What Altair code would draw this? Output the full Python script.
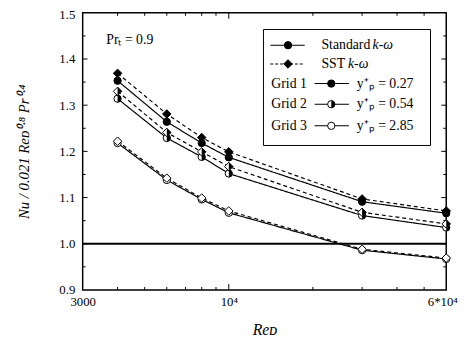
import altair as alt
import pandas as pd

# ---- data ----
re_d = [4000, 6000, 8000, 10000, 30000, 60000]
std_g1 = [1.353, 1.264, 1.218, 1.187, 1.091, 1.066]
sst_g1 = [1.369, 1.281, 1.230, 1.199, 1.097, 1.071]
std_g2 = [1.314, 1.229, 1.188, 1.152, 1.061, 1.035]
sst_g2 = [1.330, 1.241, 1.199, 1.167, 1.068, 1.043]
std_g3 = [1.218, 1.138, 1.096, 1.067, 0.986, 0.967]
sst_g3 = [1.222, 1.142, 1.099, 1.071, 0.988, 0.969]

x_tick_labels = [3000, 10000, 60000]
y_tick_labels = [0.9, 1.0, 1.1, 1.2, 1.3, 1.4, 1.5]
x_minor = [4000, 5000, 6000, 7000, 8000, 9000, 20000, 30000, 40000, 50000]
x_major = [10000]
y_major = [1.0, 1.1, 1.2, 1.3, 1.4]
y_minor = [0.95, 1.05, 1.15, 1.25, 1.35, 1.45]

W, H = 370, 282
FONT = "Liberation Serif"

series = [
    ("Standard", "Grid 1", std_g1), ("SST", "Grid 1", sst_g1),
    ("Standard", "Grid 2", std_g2), ("SST", "Grid 2", sst_g2),
    ("Standard", "Grid 3", std_g3), ("SST", "Grid 3", sst_g3),
]
rows = []
for model, grid, vals in series:
    for r, v in zip(re_d, vals):
        rows.append(dict(Re=r, Nu=v, model=model, grid=grid, series=model + grid))
df = pd.DataFrame(rows)

xs = alt.Scale(type="log", domain=[3000, 60000], nice=False)
ys = alt.Scale(domain=[0.9, 1.5], nice=False, zero=False)

XAX = alt.Axis(
    values=x_tick_labels,
    labelExpr="datum.value == 3000 ? '3000' : (datum.value == 10000 ? '10⁴' : '6*10⁴')",
    title="Reᴅ", grid=False, ticks=False, domain=False,
    labelFont=FONT, labelFontSize=13, labelColor="black", labelPadding=6,
    labelFlush=False, labelOverlap=False,
    labelOffset={"condition": {"test": "datum.value == 60000", "value": -4}, "value": 0},
    titleFont=FONT, titleFontSize=16, titleFontStyle="italic", titleFontWeight="normal",
    titleColor="black", titlePadding=13)
YAX = alt.Axis(
    values=y_tick_labels, format=".1f",
    title="Nu / 0.021 Reᴅ⁰·⁸ Pr⁰·⁴", grid=False, ticks=False, domain=False,
    labelFont=FONT, labelFontSize=13, labelColor="black", labelPadding=8,
    labelFlush=False,
    labelOffset={"condition": {"test": "datum.value == 1.5", "value": 2}, "value": 0},
    titleFont=FONT, titleFontSize=15, titleFontStyle="italic", titleFontWeight="normal",
    titleColor="black", titlePadding=28)

def XF(field):
    return alt.X(field, scale=xs, axis=XAX)

def YF(field):
    return alt.Y(field, scale=ys, axis=YAX)

base = alt.Chart(df)

hline = alt.Chart(pd.DataFrame({"v": [1.0]})).mark_rule(color="black", strokeWidth=2).encode(
    y=YF("v:Q"))

lines = base.mark_line(color="black", strokeWidth=1.2).encode(
    XF("Re:Q"), YF("Nu:Q"), detail="series:N",
    strokeDash=alt.StrokeDash("model:N", scale=alt.Scale(domain=["Standard", "SST"], range=[[1, 0], [4, 3]]), legend=None))

RIGHT_HALF_CIRCLE = "M0,-1A1,1 0 0,1 0,1Z"
RIGHT_HALF_DIAMOND = "M0,-1L1,0L0,1Z"

pts = []
for model, shape, half, size in [("Standard", "circle", RIGHT_HALF_CIRCLE, 55), ("SST", "diamond", RIGHT_HALF_DIAMOND, 75)]:
    for grid, fill in [("Grid 1", "black"), ("Grid 2", "white"), ("Grid 3", "white")]:
        pts.append(base.transform_filter(
            (alt.datum.model == model) & (alt.datum.grid == grid)
        ).mark_point(shape=shape, size=size, filled=True, fill=fill, stroke="black", strokeWidth=1, opacity=1).encode(
            x=XF("Re:Q"), y=YF("Nu:Q")))
    pts.append(base.transform_filter(
        (alt.datum.model == model) & (alt.datum.grid == "Grid 2")
    ).mark_point(shape=half, size=size, filled=True, fill="black", strokeWidth=0, opacity=1).encode(
        x=XF("Re:Q"), y=YF("Nu:Q")))

# ---- inward tick marks ----
def xticks(vals, length):
    d = alt.Chart(pd.DataFrame({"v": vals}))
    bot = d.mark_rule(color="black", strokeWidth=1).encode(
        x=XF("v:Q"), y=alt.value(H), y2=alt.value(H - length))
    top = d.mark_rule(color="black", strokeWidth=1).encode(
        x=XF("v:Q"), y=alt.value(0), y2=alt.value(length))
    return [bot, top]

def yticks(vals, length):
    d = alt.Chart(pd.DataFrame({"v": vals}))
    left = d.mark_rule(color="black", strokeWidth=1).encode(
        y=YF("v:Q"), x=alt.value(0), x2=alt.value(length))
    right = d.mark_rule(color="black", strokeWidth=1).encode(
        y=YF("v:Q"), x=alt.value(W), x2=alt.value(W - length))
    return [left, right]

ticks = xticks(x_minor, 3) + xticks(x_major, 6) + yticks(y_minor, 3) + yticks(y_major, 5)

ONE = pd.DataFrame({"a": [0]})

def label(txt, x, y, italic=False, size=14):
    kw = dict(font=FONT, fontSize=size, align="left", baseline="middle", color="black", text=txt)
    if italic:
        kw["fontStyle"] = "italic"
    return alt.Chart(ONE).mark_text(**kw).encode(x=alt.value(x), y=alt.value(y))

# ---- annotation ----
prt = label("Prₜ = 0.9", 24, 28)

# ---- custom legend ----
box = alt.Chart(ONE).mark_rect(fill="white", stroke="black", strokeWidth=1).encode(
    x=alt.value(184), x2=alt.value(354), y=alt.value(17), y2=alt.value(135))

def leg_seg(x1, x2, y, dash):
    kw = dict(color="black", strokeWidth=1.1)
    if dash:
        kw["strokeDash"] = [3, 2]
    return alt.Chart(ONE).mark_rule(**kw).encode(x=alt.value(x1), x2=alt.value(x2), y=alt.value(y))

def leg_pt(x, y, shape, size, fill, stroke=True):
    kw = dict(shape=shape, size=size, filled=True, fill=fill, opacity=1)
    if stroke:
        kw.update(stroke="black", strokeWidth=1)
    else:
        kw.update(strokeWidth=0)
    return alt.Chart(ONE).mark_point(**kw).encode(x=alt.value(x), y=alt.value(y))

legend = [
    box,
    leg_seg(191, 226, 33, False), leg_pt(209, 33, "circle", 55, "black"),
    leg_seg(191, 226, 52, True), leg_pt(209, 52, "diamond", 75, "black"),
    leg_seg(236, 271, 72, False), leg_pt(253, 72, "circle", 55, "black"),
    leg_seg(236, 271, 93, False), leg_pt(253, 93, "circle", 55, "white"),
    leg_pt(253, 93, RIGHT_HALF_CIRCLE, 55, "black", stroke=False),
    leg_seg(236, 271, 115, False), leg_pt(253, 115, "circle", 55, "white"),
    label("Standard", 243, 33), label("k-ω", 295, 33, italic=True),
    label("SST", 243, 52), label("k-ω", 270, 52, italic=True),
    label("Grid 1", 192, 72), label("y⁺ₚ = 0.27", 279, 72),
    label("Grid 2", 192, 93), label("y⁺ₚ = 0.54", 279, 93),
    label("Grid 3", 192, 115), label("y⁺ₚ = 2.85", 279, 115),
]

chart = alt.layer(
    hline, *ticks, lines, *pts, prt, *legend
).properties(
    width=W, height=H,
    autosize=alt.AutoSizeParams(type="none"),
    padding={"left": 76, "top": 2, "right": 13, "bottom": 45},
    background="white",
).configure_view(stroke="black", strokeWidth=1.5)

chart.save("out.html", embed_options={"renderer": "svg", "actions": False})
